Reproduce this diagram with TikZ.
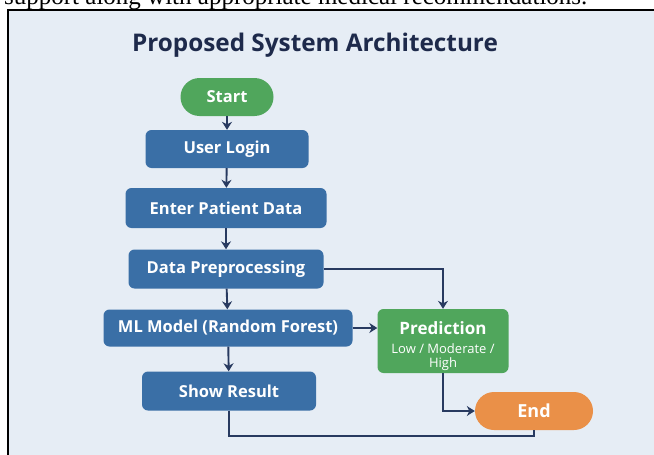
\documentclass[tikz,border=0pt]{standalone}
\usepackage{fontspec}
\setmainfont{Open Sans}
\newfontfamily\serifline{Liberation Serif}
\usetikzlibrary{arrows.meta}
\definecolor{bg}{RGB}{230,237,245}
\definecolor{boxblue}{RGB}{58,111,166}
\definecolor{boxgreen}{RGB}{80,166,92}
\definecolor{boxorange}{RGB}{234,144,72}
\definecolor{linknavy}{RGB}{40,58,96}
\definecolor{titlenavy}{RGB}{30,42,75}
\begin{document}
\begin{tikzpicture}[x=1pt, y=-1pt,
    box/.style={rounded corners=6pt, fill=boxblue, text=white, inner sep=0pt,
      minimum height=38pt, font=\bfseries\fontsize{16.5}{18}\selectfont},
    pill/.style={box, rounded corners=19pt},
    link/.style={-{Stealth[length=8pt, width=10pt]}, linknavy, line width=1.9pt}]
        \useasboundingbox (0,0) rectangle (654,455);

        % 背景と枠
        \node[anchor=base west, inner sep=0pt, font=\serifline\fontsize{25}{27}\selectfont]
          (caption) at (4,5) {support along with appropriate medical recommendations.};
        \fill[bg] (8,9.5) rectangle (654,455);
        \draw[line width=2pt] (8,455) -- (8,9.5) -- (654,9.5);

        % タイトル
        \node[text=titlenavy, font=\bfseries\fontsize{24.3}{28}\selectfont] (title) at (315,45) {Proposed System Architecture};

        % ノードの定義
        \node[pill, fill=boxgreen, minimum width=93pt] (start) at (227,97) {Start};
        \node[box, minimum width=163pt] (login) at (227,149) {User Login};
        \node[box, minimum width=201pt, minimum height=40pt] (entry) at (226,208) {Enter Patient Data};
        \node[box, minimum width=195pt, minimum height=39pt] (prep) at (226,269) {Data Preprocessing};
        \node[box, minimum width=249pt, minimum height=37pt] (model) at (228,328) {ML Model (Random Forest)};
        \node[box, minimum width=174pt, minimum height=39pt] (result) at (229,391) {Show Result};
        \node[box, fill=boxgreen, minimum width=131pt, minimum height=64pt, align=center,
          font=\fontsize{13}{14}\selectfont] (pred) at (443,341)
          {{\rule{0pt}{24pt}\bfseries\fontsize{17}{17}\selectfont Prediction}\\[5pt]Low / Moderate /\\High};
        \node[pill, fill=boxorange, minimum width=118pt, font=\bfseries\fontsize{18}{18}\selectfont] (finish) at (534,411) {End};

        % 矢印の描写
        \draw[link] (start) -- (login);
        \draw[link] (login) -- (entry);
        \draw[link] (entry) -- (prep);
        \draw[link] (prep) -- (model);
        \draw[link] (model) -- (result);
        \draw[link] (prep.east) -| (pred.north);
        \draw[link] (model.east) -- (model.east -| pred.west);
        \draw[link] (pred.south) |- (finish.west);
        \draw[linknavy, line width=1.9pt] (result.south) -- ++(0,25) -| (finish.south);
      \end{tikzpicture}
\end{document}
